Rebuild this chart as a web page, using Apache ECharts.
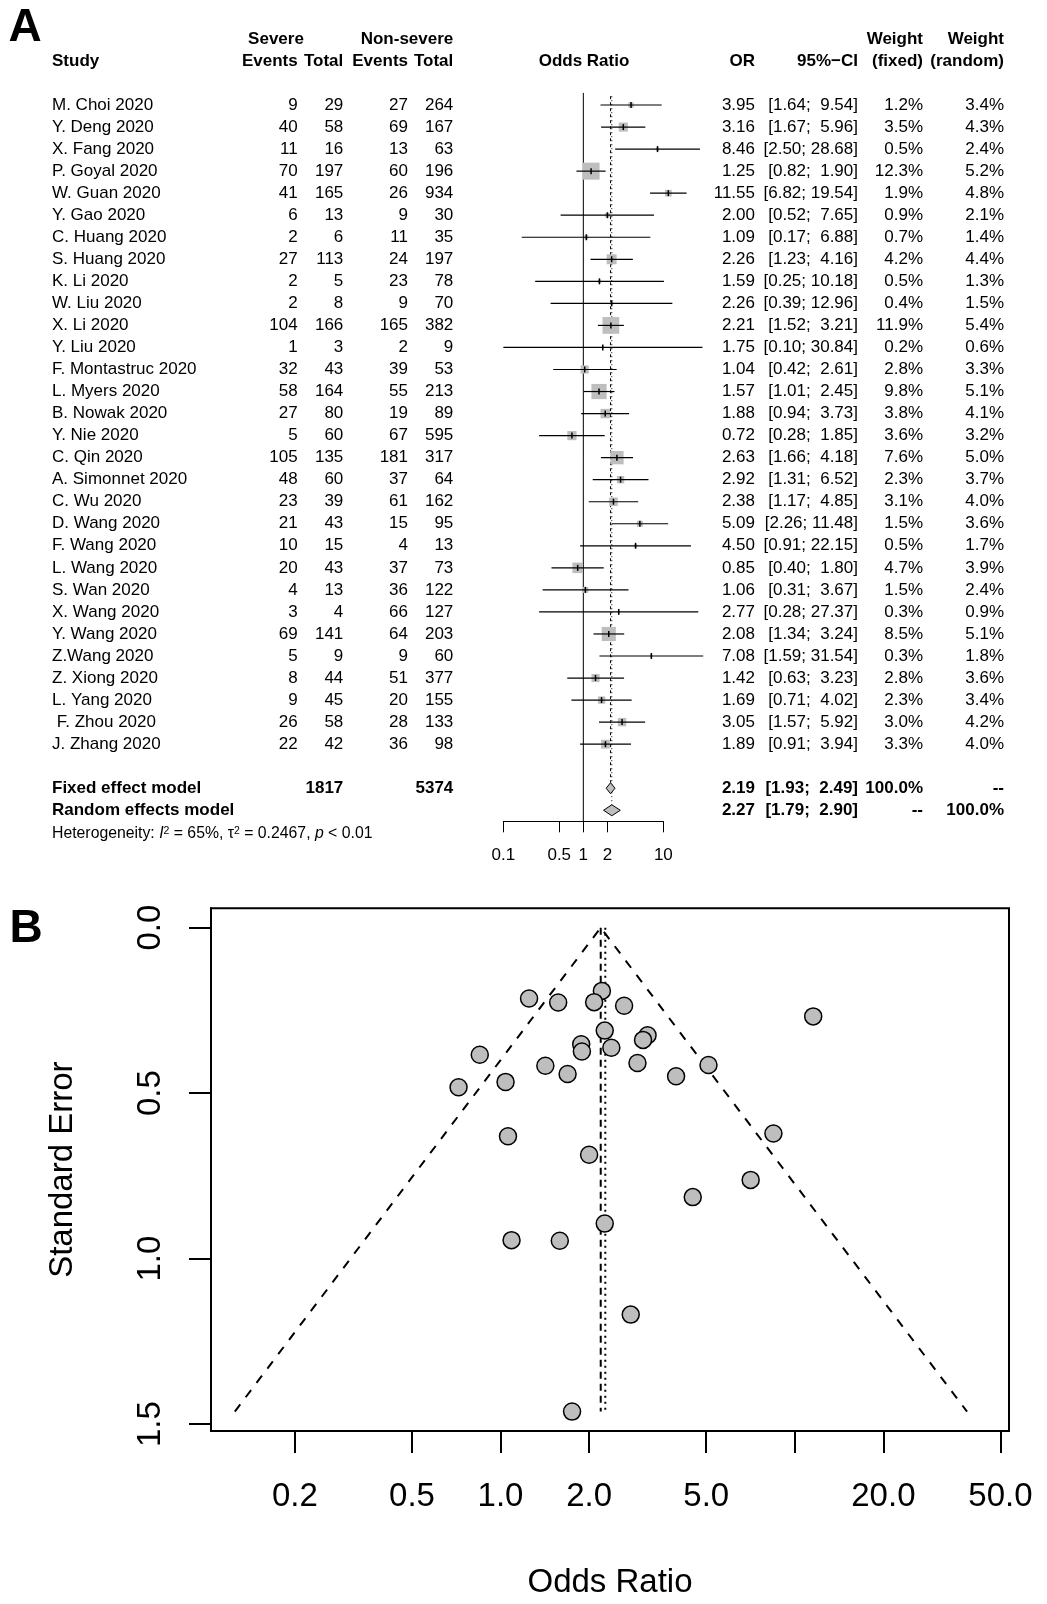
<!DOCTYPE html>
<html><head><meta charset="utf-8">
<script src="https://cdn.jsdelivr.net/npm/echarts@6/dist/echarts.min.js"></script>
<style>html,body{margin:0;padding:0;background:#fff}#c{width:1047px;height:1604px}</style>
</head><body><div id="c"></div>
<script>
// ---------------- data ----------------
const studies = ["M. Choi 2020","Y. Deng 2020","X. Fang 2020","P. Goyal 2020","W. Guan 2020","Y. Gao 2020","C. Huang 2020","S. Huang 2020","K. Li 2020","W. Liu 2020","X. Li 2020","Y. Liu 2020","F. Montastruc 2020","L. Myers 2020","B. Nowak 2020","Y. Nie 2020","C. Qin 2020","A. Simonnet 2020","C. Wu 2020","D. Wang 2020","F. Wang 2020","L. Wang 2020","S. Wan 2020","X. Wang 2020","Y. Wang 2020","Z.Wang 2020","Z. Xiong 2020","L. Yang 2020"," F. Zhou 2020","J. Zhang 2020"];
const sevEvents = [9,40,11,70,41,6,2,27,2,2,104,1,32,58,27,5,105,48,23,21,10,20,4,3,69,5,8,9,26,22];
const sevTotal  = [29,58,16,197,165,13,6,113,5,8,166,3,43,164,80,60,135,60,39,43,15,43,13,4,141,9,44,45,58,42];
const nsEvents  = [27,69,13,60,26,9,11,24,23,9,165,2,39,55,19,67,181,37,61,15,4,37,36,66,64,9,51,20,28,36];
const nsTotal   = [264,167,63,196,934,30,35,197,78,70,382,9,53,213,89,595,317,64,162,95,13,73,122,127,203,60,377,155,133,98];
const orVals = [3.95,3.16,8.46,1.25,11.55,2.00,1.09,2.26,1.59,2.26,2.21,1.75,1.04,1.57,1.88,0.72,2.63,2.92,2.38,5.09,4.50,0.85,1.06,2.77,2.08,7.08,1.42,1.69,3.05,1.89];
const ciLow  = [1.64,1.67,2.50,0.82,6.82,0.52,0.17,1.23,0.25,0.39,1.52,0.10,0.42,1.01,0.94,0.28,1.66,1.31,1.17,2.26,0.91,0.40,0.31,0.28,1.34,1.59,0.63,0.71,1.57,0.91];
const ciHigh = [9.54,5.96,28.68,1.90,19.54,7.65,6.88,4.16,10.18,12.96,3.21,30.84,2.61,2.45,3.73,1.85,4.18,6.52,4.85,11.48,22.15,1.80,3.67,27.37,3.24,31.54,3.23,4.02,5.92,3.94];
const wFixed  = [1.2,3.5,0.5,12.3,1.9,0.9,0.7,4.2,0.5,0.4,11.9,0.2,2.8,9.8,3.8,3.6,7.6,2.3,3.1,1.5,0.5,4.7,1.5,0.3,8.5,0.3,2.8,2.3,3.0,3.3];
const wRandom = [3.4,4.3,2.4,5.2,4.8,2.1,1.4,4.4,1.3,1.5,5.4,0.6,3.3,5.1,4.1,3.2,5.0,3.7,4.0,3.6,1.7,3.9,2.4,0.9,5.1,1.8,3.6,3.4,4.2,4.0];
const seVals  = [0.449,0.325,0.622,0.214,0.268,0.686,0.944,0.311,0.946,0.894,0.191,1.462,0.466,0.226,0.352,0.482,0.236,0.409,0.363,0.415,0.814,0.384,0.630,1.169,0.225,0.762,0.417,0.442,0.339,0.374];

const modelNames = ["Fixed effect model","Random effects model"];
const modelOR   = [2.19, 2.27];
const modelLow  = [1.93, 1.79];
const modelHigh = [2.49, 2.90];
const modelWFixed  = ["100.0%","--"];
const modelWRandom = ["--","100.0%"];
const totalSevere = 1817;
const totalNonSevere = 5374;

const forestTicks = [0.1, 0.5, 1, 2, 10];
const forestTickLabels = ["0.1","0.5","1","2","10"];
const funnelTicks = [0.2, 0.5, 1, 2, 5, 10, 20, 50];
const funnelTickLabels = ["0.2","0.5","1.0","2.0","5.0","","20.0","50.0"];
const seTicks = [0, 0.5, 1.0, 1.5];
const seTickLabels = ["0.0","0.5","1.0","1.5"];
const funnelTriangle = [[0.125, 1.462],[2.19, 0],[38.5, 1.462]];
const funnelMaxSE = 1.462;

// ---------------- layout ----------------
const FONT = "'Liberation Sans', Arial, Helvetica, sans-serif";
const L10 = Math.log10;
const COL = {name:52, sevE:297.7, sevT:343.3, nsE:408, nsT:453.3, or:755, ci:858, wf:923, wr:1004};

function fmtCI(lo, hi){
  let h = hi.toFixed(2); while (h.length < 5) h = ' ' + h;
  return '[' + lo.toFixed(2) + '; ' + h + ']';
}
function labelLookup(ticks, labels){
  return function(v){
    for (let i=0;i<ticks.length;i++){ if (Math.abs(L10(ticks[i]) - v) < 1e-6) return labels[i]; }
    return '';
  };
}

// table rows
const tableRows = [];
studies.forEach((s,i)=>{
  tableRows.push({row:i, bold:false, cells:[
    ['name', s], ['sevE', String(sevEvents[i])], ['sevT', String(sevTotal[i])],
    ['nsE', String(nsEvents[i])], ['nsT', String(nsTotal[i])],
    ['or', orVals[i].toFixed(2)], ['ci', fmtCI(ciLow[i], ciHigh[i])],
    ['wf', wFixed[i].toFixed(1)+'%'], ['wr', wRandom[i].toFixed(1)+'%']
  ]});
});
modelNames.forEach((m,k)=>{
  const cells = [['name', m], ['or', modelOR[k].toFixed(2)], ['ci', fmtCI(modelLow[k], modelHigh[k])],
                 ['wf', modelWFixed[k]], ['wr', modelWRandom[k]]];
  if (k===0){ cells.push(['sevT', String(totalSevere)]); cells.push(['nsT', String(totalNonSevere)]); }
  tableRows.push({row:31+k, bold:true, cells});
});

const ciData = studies.map((s,i)=>[L10(ciLow[i]), L10(ciHigh[i]), L10(orVals[i]), i, wFixed[i]]);
const diamondData = modelOR.map((o,k)=>[L10(modelLow[k]), L10(modelHigh[k]), L10(o), 31+k]);
const funnelPts = orVals.map((o,i)=>[L10(o), seVals[i]]);

const chart = echarts.init(document.getElementById('c'), null, {renderer:'canvas'});

function txt(x, y, text, align, bold, size){
  return {type:'text', x:x, y:y, style:{text:text, fill:'#000', align:align, verticalAlign:'middle',
    font:(bold?'bold ':'') + (size||17) + 'px ' + FONT}};
}

const headers = [
  txt(25, 28, 'A', 'center', true, 46),
  txt(26, 929, 'B', 'center', true, 46),
  txt(52, 61.7, 'Study', 'left', true),
  txt(276, 39, 'Severe', 'center', true),
  txt(453.3, 39, 'Non-severe', 'right', true),
  txt(297.7, 61.7, 'Events', 'right', true),
  txt(343.3, 61.7, 'Total', 'right', true),
  txt(408, 61.7, 'Events', 'right', true),
  txt(453.3, 61.7, 'Total', 'right', true),
  txt(584, 61.7, 'Odds Ratio', 'center', true),
  txt(755, 61.7, 'OR', 'right', true),
  txt(858, 61.7, '95%\u2212CI', 'right', true),
  txt(923, 39, 'Weight', 'right', true),
  txt(923, 61.7, '(fixed)', 'right', true),
  txt(1004, 39, 'Weight', 'right', true),
  txt(1004, 61.7, '(random)', 'right', true),
  {type:'text', x:52, y:834, style:{
    text:'{n|Heterogeneity: }{i|I}{s|2}{n| = 65%, \u03c4}{s|2}{n| = 0.2467, }{i|p}{n| < 0.01}',
    verticalAlign:'middle', fill:'#000',
    rich:{
      n:{fontSize:15.8, fontFamily:FONT, fill:'#000'},
      i:{fontSize:15.8, fontFamily:FONT, fontStyle:'italic', fill:'#000'},
      s:{fontSize:10.5, fontFamily:FONT, fill:'#000', verticalAlign:'top', padding:[0,0,6,0]}
    }}}
];

const option = {
  backgroundColor:'#fff',
  animation:false,
  graphic:{elements: headers},
  grid:[
    {left:503.33, top:94, width:160, height:727.3, show:false},
    {left:211, top:908.3, width:798, height:522.7, show:true, borderColor:'#000', borderWidth:2, backgroundColor:'transparent'}
  ],
  xAxis:[
    {gridIndex:0, type:'value', min:-1, max:1, splitLine:{show:false},
     axisLine:{show:true, onZero:false, lineStyle:{color:'#000', width:1}},
     axisTick:{show:true, length:11, lineStyle:{color:'#000', width:1}, customValues:forestTicks.map(L10)},
     axisLabel:{show:true, customValues:forestTicks.map(L10), formatter:labelLookup(forestTicks, forestTickLabels),
       margin:26, color:'#000', fontSize:17, fontFamily:FONT}},
    {gridIndex:1, type:'value', min:-0.984, max:1.728, splitLine:{show:false},
     axisLine:{show:true, onZero:false, lineStyle:{color:'#000', width:2}},
     axisTick:{show:true, length:22, lineStyle:{color:'#000', width:2}, customValues:funnelTicks.map(L10)},
     axisLabel:{show:true, customValues:funnelTicks.map(L10), formatter:labelLookup(funnelTicks, funnelTickLabels),
       margin:49, color:'#000', fontSize:33, fontFamily:FONT},
     name:'Odds Ratio', nameLocation:'middle', nameGap:135,
     nameTextStyle:{color:'#000', fontSize:33, fontFamily:FONT}}
  ],
  yAxis:[
    {gridIndex:0, type:'value', min:-0.5, max:32.5, inverse:true, show:false},
    {gridIndex:1, type:'value', min:-0.0585, max:1.5206, inverse:true, splitLine:{show:false},
     axisLine:{show:true, onZero:false, lineStyle:{color:'#000', width:2}},
     axisTick:{show:true, length:22, lineStyle:{color:'#000', width:2}, customValues:seTicks},
     axisLabel:{show:true, customValues:seTicks, rotate:90, margin:44,
       formatter:function(v){ for (let i=0;i<seTicks.length;i++) if (Math.abs(seTicks[i]-v)<1e-6) return seTickLabels[i]; return ''; },
       color:'#000', fontSize:33, fontFamily:FONT},
     name:'Standard Error', nameLocation:'middle', nameGap:132, nameRotate:90,
     nameTextStyle:{color:'#000', fontSize:33, fontFamily:FONT}}
  ],
  series:[
    // forest reference lines
    {type:'line', xAxisIndex:0, yAxisIndex:0, data:[[0,-0.55],[0,32.5]], symbol:'none', silent:true, clip:false,
     lineStyle:{color:'#000', width:1}},
    {type:'line', xAxisIndex:0, yAxisIndex:0, data:[[L10(modelOR[0]),-0.4],[L10(modelOR[0]),30.75]], symbol:'none', silent:true, clip:false,
     lineStyle:{color:'#000', width:1, type:[3,3]}},
    {type:'line', xAxisIndex:0, yAxisIndex:0, data:[[L10(modelOR[1]),-0.4],[L10(modelOR[1]),31.75]], symbol:'none', silent:true, clip:false,
     lineStyle:{color:'#000', width:1, type:[1,3]}},
    // study CIs and squares
    {type:'custom', xAxisIndex:0, yAxisIndex:0, clip:false, silent:true, data:ciData, encode:{x:2, y:3}, z:4,
     renderItem:function(params, api){
       const row = api.value(3);
       const pL = api.coord([api.value(0), row]);
       const pU = api.coord([api.value(1), row]);
       const pM = api.coord([api.value(2), row]);
       const s = 4.85*Math.sqrt(api.value(4));
       return {type:'group', children:[
         {type:'rect', shape:{x:pM[0]-s/2, y:pM[1]-s/2, width:s, height:s}, style:{fill:'#bebebe'}},
         {type:'line', shape:{x1:pL[0], y1:pL[1], x2:pU[0], y2:pU[1]}, style:{stroke:'#000', lineWidth:1.2}},
         {type:'line', shape:{x1:pM[0], y1:pM[1]-3, x2:pM[0], y2:pM[1]+3}, style:{stroke:'#000', lineWidth:1.5}}
       ]};
     }},
    // summary diamonds
    {type:'custom', xAxisIndex:0, yAxisIndex:0, clip:false, silent:true, data:diamondData, encode:{x:2, y:3}, z:4,
     renderItem:function(params, api){
       const row = api.value(3);
       const pL = api.coord([api.value(0), row]);
       const pU = api.coord([api.value(1), row]);
       const pM = api.coord([api.value(2), row]);
       const h = 5.5;
       return {type:'polygon', shape:{points:[[pL[0],pL[1]],[pM[0],pM[1]-h],[pU[0],pU[1]],[pM[0],pM[1]+h]]},
         style:{fill:'#bebebe', stroke:'#000', lineWidth:1}};
     }},
    // table text
    {type:'custom', xAxisIndex:0, yAxisIndex:0, clip:false, silent:true,
     data:tableRows.map((r,k)=>[0, r.row, k]), encode:{x:0, y:1}, z:5,
     renderItem:function(params, api){
       const rowDef = tableRows[api.value(2)];
       const y = api.coord([0, api.value(1)])[1];
       return {type:'group', children: rowDef.cells.map(c => txt(COL[c[0]], y, c[1], c[0]==='name'?'left':'right', rowDef.bold))};
     }},
    // funnel lines
    {type:'line', xAxisIndex:1, yAxisIndex:1, data:funnelTriangle.map(p=>[L10(p[0]), p[1]]), symbol:'none', silent:true,
     lineStyle:{color:'#000', width:2, type:[9,9]}},
    {type:'line', xAxisIndex:1, yAxisIndex:1, data:[[L10(modelOR[0]),0],[L10(modelOR[0]),funnelMaxSE]], symbol:'none', silent:true,
     lineStyle:{color:'#000', width:2, type:[7,5]}},
    {type:'line', xAxisIndex:1, yAxisIndex:1, data:[[L10(modelOR[1]),0],[L10(modelOR[1]),funnelMaxSE]], symbol:'none', silent:true,
     lineStyle:{color:'#000', width:2, type:[2,4]}},
    // funnel points
    {type:'scatter', xAxisIndex:1, yAxisIndex:1, data:funnelPts, symbol:'circle', symbolSize:17, silent:true, z:6,
     itemStyle:{color:'#bebebe', borderColor:'#000', borderWidth:1.5, opacity:1}}
  ]
};
chart.setOption(option);
</script>
</body></html>
